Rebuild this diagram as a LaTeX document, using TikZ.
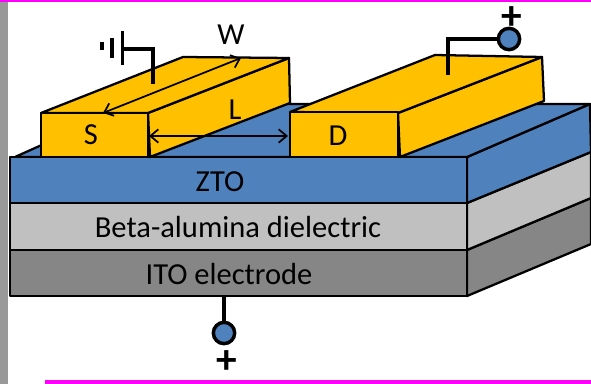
\documentclass[tikz,border=0pt]{standalone}
\usepackage{fontspec}
\setmainfont{Carlito}
\usetikzlibrary{arrows.meta}
\definecolor{ztoblue}{HTML}{4F81BD}
\definecolor{contactyellow}{HTML}{FFC000}
\definecolor{dielgrey}{HTML}{C0C0C0}
\definecolor{itogrey}{HTML}{868686}
\definecolor{edgepink}{HTML}{FF00FF}
\tikzset{every picture/.style={line width=1.7pt}}
\tikzset{layer/.style={draw=black,line join=round}}
\tikzset{wire/.style={draw=black,line width=2.4pt}}
\tikzset{dimarrow/.style={draw=black,line width=1.3pt,{Straight Barb[length=6pt,width=10pt]}-{Straight Barb[length=6pt,width=10pt]}}}
\tikzset{terminal/.style={circle,draw=black,line width=2.6pt,fill=ztoblue,minimum size=16pt,inner sep=0pt}}
\tikzset{lbl/.style={inner sep=0pt,font=\fontsize{22.9pt}{24pt}\selectfont}}
\tikzset{signlbl/.style={inner sep=0pt,font=\fontsize{31pt}{31pt}\bfseries\selectfont}}

\begin{document}
\begin{tikzpicture}[x=0.75pt,y=0.75pt,yscale=-1]
	\useasboundingbox (0,0) rectangle (591,384);
	
	%page edges
	\fill [color=black!40] (0,2) rectangle (8,384);
	\fill [color=edgepink] (0,0) rectangle (591,2);
	\fill [color=edgepink] (45,380) rectangle (591,384);
	
	%side faces
	\draw [layer,fill=itogrey] (467,250) -- (591,198) -- (591,244) -- (467,296) -- cycle;
	\draw [layer,fill=dielgrey] (467,203) -- (591,152) -- (591,198) -- (467,250) -- cycle;
	\draw [layer,fill=ztoblue] (467,157) -- (590,104) -- (591,152) -- (467,203) -- cycle;
	%top of ZTO
	\draw [layer,fill=ztoblue] (15,157) -- (133,104) -- (590,104) -- (467,157) -- cycle;
	%front faces
	\draw [layer,fill=itogrey] (10,250) rectangle (467,296);
	\draw [layer,fill=dielgrey] (10,203) rectangle (467,250);
	\draw [layer,fill=ztoblue] (10,157) rectangle (467,203);
	
	%source
	\draw [layer,fill=contactyellow] (148,113) -- (289,58) -- (290,103) -- (150,157) -- cycle;
	\draw [layer,fill=contactyellow] (41,113) -- (183,57) -- (289,58) -- (148,113) -- cycle;
	\draw [layer,fill=contactyellow] (41,113) rectangle (148,157);
	%drain
	\draw [layer,fill=contactyellow] (398,113) -- (542,57) -- (544,101) -- (400,157) -- cycle;
	\draw [layer,fill=contactyellow] (290,112) -- (435,55) -- (542,57) -- (398,113) -- cycle;
	\draw [layer,fill=contactyellow] (290,112) rectangle (398,157);
	
	%W and L arrows
	\coordinate (wback) at (241,58);
	\coordinate (wfront) at (103,113);
	\coordinate (lleft) at (149,136);
	\coordinate (lright) at (288,136);
	\draw [dimarrow] (wfront) -- (wback);
	\draw [dimarrow] (lleft) -- (lright);
	
	%ground
	\coordinate (sourcepin) at (153,84);
	\coordinate (groundcorner) at (153,49);
	\coordinate (groundplate) at (122.5,49);
	\draw [wire] (sourcepin) -- (groundcorner) -- (groundplate);
	\draw [wire] (122.5,31) -- (122.5,65);
	\draw [wire] (112,38) -- (112,58);
	\draw [wire] (102,42) -- (102,50);
	
	%terminals
	\node (drainterm) [terminal] at (509,39) {};
	\coordinate (drainpin) at (448,75);
	\coordinate (draincorner) at (448,39);
	\draw [wire] (drainpin) -- (draincorner) -- (drainterm);
	\node (gateterm) [terminal] at (224,333) {};
	\coordinate (gatepin) at (224,296);
	\draw [wire] (gatepin) -- (gateterm);
	
	% Text Node
	\node (drainplus) [signlbl] at (512,18) {+};
	% Text Node
	\node (gateplus) [signlbl] at (227,362) {+};
	% Text Node
	\node (widthlbl) [lbl] at (231,35) {W};
	% Text Node
	\node (lengthlbl) [lbl] at (235,110) {L};
	% Text Node
	\node (sourcelbl) [lbl] at (91,135) {S};
	% Text Node
	\node (drainlbl) [lbl] at (338,136) {D};
	% Text Node
	\node (ztolbl) [lbl] at (220,182) {ZTO};
	% Text Node
	\node (diellbl) [lbl] at (238,227) {Beta-alumina dielectric};
	% Text Node
	\node (itolbl) [lbl] at (229,274) {ITO electrode};
	
\end{tikzpicture}
\end{document}
